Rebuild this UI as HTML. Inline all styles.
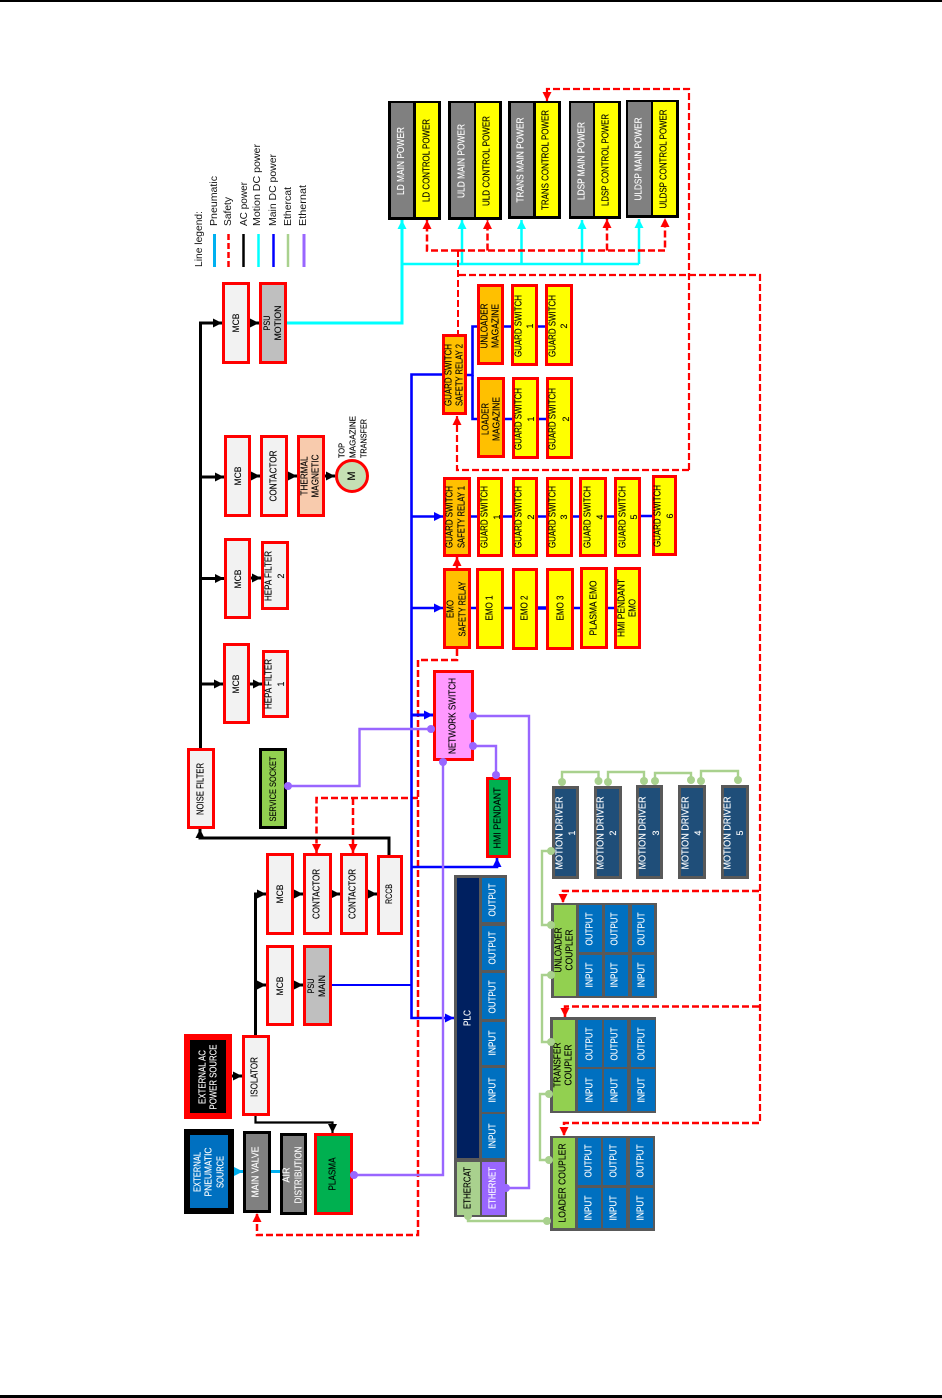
<!DOCTYPE html>
<html><head><meta charset="utf-8"><style>
html,body{margin:0;padding:0;background:#fff}
svg{display:block}
text{font-family:"Liberation Sans",sans-serif;font-size:9.8px;text-anchor:middle;dominant-baseline:central;fill:#000;stroke:currentColor;stroke-width:.12px;color:#000}
.w{fill:#fff;color:#fff}
.s{font-size:8.8px}
.l{font-size:10.5px;text-anchor:start;fill:#111;stroke:none}
.r{stroke:#f00;stroke-width:3}
.d{fill:none;stroke:#f00;stroke-width:2.5;stroke-dasharray:7 3}
.k{fill:none;stroke:#000;stroke-width:3}
.b{fill:none;stroke:#00f;stroke-width:2.6}
.c{fill:none;stroke:#0ff;stroke-width:3}
.p{fill:none;stroke:#9966ff;stroke-width:2.4}
.g{fill:none;stroke:#a9d18e;stroke-width:2.4}
.pd{fill:#9966ff}.gd{fill:#a9d18e}
.y{fill:#ff0}.o{fill:#ffc000}.f{fill:#f2f2f2}.a{fill:#bfbfbf}.h{fill:#808080}.u{fill:#0070c0}.m{fill:#1f4e79;stroke:#595959;stroke-width:3}
</style></head><body>
<svg xmlns="http://www.w3.org/2000/svg" width="942" height="1398" viewBox="0 0 942 1398">
<defs>
<marker id="ak" viewBox="0 0 8 8" refX="8" refY="4" markerWidth="9" markerHeight="9" markerUnits="userSpaceOnUse" orient="auto"><path d="M0 0L8 4L0 8Z" fill="#000"/></marker>
<marker id="ab" viewBox="0 0 8 8" refX="8" refY="4" markerWidth="9" markerHeight="9" markerUnits="userSpaceOnUse" orient="auto"><path d="M0 0L8 4L0 8Z" fill="#00f"/></marker>
<marker id="ar" viewBox="0 0 8 8" refX="8" refY="4" markerWidth="9" markerHeight="9" markerUnits="userSpaceOnUse" orient="auto"><path d="M0 0L8 4L0 8Z" fill="#f00"/></marker>
<marker id="ac" viewBox="0 0 8 8" refX="8" refY="4" markerWidth="9" markerHeight="9" markerUnits="userSpaceOnUse" orient="auto"><path d="M0 0L8 4L0 8Z" fill="#0ff"/></marker>
<marker id="ao" viewBox="0 0 8 8" refX="8" refY="4" markerWidth="9" markerHeight="9" markerUnits="userSpaceOnUse" orient="auto"><path d="M0 0L8 4L0 8Z" fill="#00b0f0"/></marker>
</defs>
<rect x="0" y="0" width="942" height="2" fill="#000"/>
<rect x="0" y="1395" width="942" height="3" fill="#000"/>

<!-- connectors: cyan -->
<path class="c" d="M287 323H402V220" marker-end="url(#ac)"/>
<path class="c" d="M402 264H639" style="stroke-width:2.500"/>
<path class="c" d="M462 264V220" style="stroke-width:2.500" marker-end="url(#ac)"/>
<path class="c" d="M521.500 264V220" style="stroke-width:2.500" marker-end="url(#ac)"/>
<path class="c" d="M582 264V220" style="stroke-width:2.500" marker-end="url(#ac)"/>
<path class="c" d="M639 264V219" style="stroke-width:2.500" marker-end="url(#ac)"/>

<!-- red dashed -->
<path class="d" d="M458 250.500H427V220" marker-end="url(#ar)"/>
<path class="d" d="M458 250.500H665V218" marker-end="url(#ar)"/>
<path class="d" d="M487.500 250.500V220" marker-end="url(#ar)"/>
<path class="d" d="M607 250.500V219" marker-end="url(#ar)"/>
<path class="d" d="M458 250V334" style="stroke-width:2"/>
<path class="d" d="M459 275H760V1123" style="stroke-width:2.200"/>
<path class="d" d="M689 470V89H547V101" style="stroke-width:2.200" marker-end="url(#ar)"/>
<path class="d" d="M689 470H457V416" style="stroke-width:2.200" marker-end="url(#ar)"/>
<path class="d" d="M457 568V557" style="stroke-dasharray:none" marker-end="url(#ar)"/>
<path class="d" d="M457 649V660H418V1235H257V1213" marker-end="url(#ar)"/>
<path class="d" d="M418 798H316.500V853" marker-end="url(#ar)"/>
<path class="d" d="M353 798V853" marker-end="url(#ar)"/>
<path class="d" d="M759 891H563V903" marker-end="url(#ar)"/>
<path class="d" d="M759 1006.500H565V1017" marker-end="url(#ar)"/>
<path class="d" d="M759 1123H564V1136" marker-end="url(#ar)"/>

<!-- black -->
<path class="k" d="M200.500 749V323H222" marker-end="url(#ak)"/>
<path class="k" d="M200 477H224" marker-end="url(#ak)"/>
<path class="k" d="M200 578.500H224" marker-end="url(#ak)"/>
<path class="k" d="M200 684H223" marker-end="url(#ak)"/>
<path class="k" d="M250 323H259" marker-end="url(#ak)"/>
<path class="k" d="M251 476H260" marker-end="url(#ak)"/>
<path class="k" d="M288 476H297" marker-end="url(#ak)"/>
<path class="k" d="M325 476H335" marker-end="url(#ak)"/>
<path class="k" d="M251 578H261" marker-end="url(#ak)"/>
<path class="k" d="M250 684H262" marker-end="url(#ak)"/>
<path class="k" d="M389 855V838H200V829" marker-end="url(#ak)"/>
<path class="k" d="M255.500 1036V894H266" marker-end="url(#ak)"/>
<path class="k" d="M255.500 985H266" marker-end="url(#ak)"/>
<path class="k" d="M294 985H303" marker-end="url(#ak)"/>
<path class="k" d="M294 894H303" marker-end="url(#ak)"/>
<path class="k" d="M332 894H340" marker-end="url(#ak)"/>
<path class="k" d="M368 894H377" marker-end="url(#ak)"/>
<path class="k" d="M232 1076H242" marker-end="url(#ak)"/>
<path class="k" style="stroke-width:2.200" d="M255.500 1116V1122.500H332.500V1133" marker-end="url(#ak)"/>

<!-- pneumatic -->
<path fill="none" stroke="#00b0f0" stroke-width="3" d="M232 1171.500H243" marker-end="url(#ao)"/>
<path fill="none" stroke="#00b0f0" stroke-width="3" d="M271 1171.500H280"/>

<!-- blue -->
<path class="b" d="M332 985H411.500" style="stroke-width:2"/>
<path class="b" d="M442 374.500H411.500V1018H454" marker-end="url(#ab)"/>
<path class="b" d="M411.500 516.500H443" marker-end="url(#ab)"/>
<path class="b" d="M411.500 608H443" marker-end="url(#ab)"/>
<path class="b" d="M411.500 715H433" style="stroke-width:3" marker-end="url(#ab)"/>
<path class="b" d="M411.500 867H497V858" marker-end="url(#ab)"/>
<path class="b" d="M467 375H472.500V326.500H477"/>
<path class="b" d="M472.500 375V419H477"/>
<path class="b" d="M504 326.500H511M538 326.500H545M505 419H512M539 419H546"/>
<path class="b" d="M471 516.500H477M503 516.500H512M538 516.500H546M573 516.500H579M607 516.500H614M641 516H652"/>
<path class="b" d="M471 608H476M504 608H512M574 608H580M608 608H614"/>
<path class="b" d="M538 608H546" style="stroke-width:3.500"/>

<!-- purple -->
<path class="p" d="M288 786H359.500V729H431"/>
<path class="p" d="M443 762V1175H354"/>
<path class="p" d="M473 716H529V1188H506"/>
<path class="p" d="M473 746H496V775"/>

<!-- ethercat green -->
<path class="g" d="M562 782V772H598.500V781"/>
<path class="g" d="M608 782V772H644V781"/>
<path class="g" d="M655 781V773H691V780"/>
<path class="g" d="M701 781V771H738V780"/>
<path class="g" d="M551 851H542V925H551"/>
<path class="g" d="M551 975H542V1042H551"/>
<path class="g" d="M549 1094H540V1160H549"/>
<path class="g" d="M468 1216V1221H547"/>

<!-- Legend -->
<text class="l" textLength="56" lengthAdjust="spacingAndGlyphs" transform="translate(199 267) rotate(-90)">Line legend:</text>
<text class="l" textLength="50" lengthAdjust="spacingAndGlyphs" transform="translate(214 226) rotate(-90)">Pneumatic</text>
<text class="l" textLength="29" lengthAdjust="spacingAndGlyphs" transform="translate(228 226) rotate(-90)">Safety</text>
<text class="l" textLength="44" lengthAdjust="spacingAndGlyphs" transform="translate(244 226) rotate(-90)">AC power</text>
<text class="l" textLength="82" lengthAdjust="spacingAndGlyphs" transform="translate(257 226) rotate(-90)">Motion DC power</text>
<text class="l" textLength="72" lengthAdjust="spacingAndGlyphs" transform="translate(273 226) rotate(-90)">Main DC power</text>
<text class="l" textLength="39" lengthAdjust="spacingAndGlyphs" transform="translate(288 226) rotate(-90)">Ethercat</text>
<text class="l" textLength="41" lengthAdjust="spacingAndGlyphs" transform="translate(303 226) rotate(-90)">Ethernat</text>
<path d="M214.500 234V267" stroke="#00b0f0" stroke-width="3"/>
<path d="M228.500 234V267" stroke="#f00" stroke-width="2.500" stroke-dasharray="6 3"/>
<path d="M243.500 234V267" stroke="#000" stroke-width="2.500"/>
<path d="M258.500 234V267" stroke="#0ff" stroke-width="2.500"/>
<path d="M273.500 234V267" stroke="#00f" stroke-width="2.500"/>
<path d="M288 234V267" stroke="#a9d18e" stroke-width="2.500"/>
<path d="M304 234V267" stroke="#9966ff" stroke-width="3"/>

<!-- Power blocks -->
<rect x="388" y="101" width="53" height="119" fill="#000"/><rect x="391" y="103" width="22" height="114" class="h"/><rect x="416" y="103" width="22" height="114" class="y"/>
<rect x="448" y="101" width="54" height="119" fill="#000"/><rect x="451" y="103" width="23" height="114" class="h"/><rect x="476" y="103" width="23" height="114" class="y"/>
<rect x="508" y="101" width="53" height="118" fill="#000"/><rect x="511" y="103" width="22" height="113" class="h"/><rect x="536" y="103" width="22" height="113" class="y"/>
<rect x="569" y="101" width="52" height="118" fill="#000"/><rect x="571" y="103" width="22" height="113" class="h"/><rect x="595" y="103" width="23" height="113" class="y"/>
<rect x="626" y="100" width="53" height="118" fill="#000"/><rect x="628" y="102" width="23" height="113" class="h"/><rect x="653" y="102" width="23" height="113" class="y"/>
<text class="w" textLength="68" lengthAdjust="spacingAndGlyphs" transform="translate(401.500 161) rotate(-90)">LD MAIN POWER</text>
<text textLength="83" lengthAdjust="spacingAndGlyphs" transform="translate(427 160.500) rotate(-90)">LD CONTROL POWER</text>
<text class="w" textLength="74" lengthAdjust="spacingAndGlyphs" transform="translate(462 161) rotate(-90)">ULD MAIN POWER</text>
<text textLength="90" lengthAdjust="spacingAndGlyphs" transform="translate(487 161) rotate(-90)">ULD CONTROL POWER</text>
<text class="w" textLength="85" lengthAdjust="spacingAndGlyphs" transform="translate(521 160) rotate(-90)">TRANS MAIN POWER</text>
<text textLength="100" lengthAdjust="spacingAndGlyphs" transform="translate(546 160) rotate(-90)">TRANS CONTROL POWER</text>
<text class="w" textLength="78" lengthAdjust="spacingAndGlyphs" transform="translate(582 161) rotate(-90)">LDSP MAIN POWER</text>
<text textLength="92" lengthAdjust="spacingAndGlyphs" transform="translate(606 160) rotate(-90)">LDSP CONTROL POWER</text>
<text class="w" textLength="83" lengthAdjust="spacingAndGlyphs" transform="translate(639 159) rotate(-90)">ULDSP MAIN POWER</text>
<text textLength="99" lengthAdjust="spacingAndGlyphs" transform="translate(664 159) rotate(-90)">ULDSP CONTROL POWER</text>

<!-- Upper left red boxes -->
<rect x="223.500" y="283.500" width="25" height="79" class="r f"/>
<rect x="260.500" y="283.500" width="25" height="79" class="r a"/>
<rect x="225.500" y="436.500" width="24" height="79" class="r f"/>
<rect x="261.500" y="436.500" width="25" height="79" class="r f"/>
<rect x="298.500" y="436.500" width="25" height="79" class="r" fill="#f8cbad"/>
<circle cx="352" cy="476" r="15.500" fill="#c5e0b4" stroke="#f00" stroke-width="3"/>
<rect x="225.500" y="539.500" width="24" height="78" class="r f"/>
<rect x="262.500" y="542.500" width="25" height="66" class="r f"/>
<rect x="224.500" y="644.500" width="24" height="78" class="r f"/>
<rect x="263.500" y="651.500" width="24" height="65" class="r f"/>
<rect x="188.500" y="749.500" width="25" height="78" class="r f"/>
<rect x="260.500" y="749.500" width="25" height="78" fill="#92d050" stroke="#000" stroke-width="3"/>
<text class="s" textLength="19" lengthAdjust="spacingAndGlyphs" transform="translate(236 323) rotate(-90)">MCB</text>
<text class="s" textLength="15" lengthAdjust="spacingAndGlyphs" transform="translate(267 323) rotate(-90)">PSU</text>
<text class="s" textLength="35" lengthAdjust="spacingAndGlyphs" transform="translate(278 323) rotate(-90)">MOTION</text>
<text class="s" textLength="19" lengthAdjust="spacingAndGlyphs" transform="translate(238 476) rotate(-90)">MCB</text>
<text textLength="51" lengthAdjust="spacingAndGlyphs" transform="translate(274 476) rotate(-90)">CONTACTOR</text>
<text textLength="39" lengthAdjust="spacingAndGlyphs" transform="translate(305 476) rotate(-90)">THERMAL</text>
<text textLength="43" lengthAdjust="spacingAndGlyphs" transform="translate(316 476) rotate(-90)">MAGNETIC</text>
<text style="font-size:11px" transform="translate(352 476) rotate(-90)">M</text>
<text style="font-size:8px;text-anchor:start" textLength="15" lengthAdjust="spacingAndGlyphs" transform="translate(342 458) rotate(-90)">TOP</text>
<text style="font-size:8px;text-anchor:start" textLength="42" lengthAdjust="spacingAndGlyphs" transform="translate(353 458) rotate(-90)">MAGAZINE</text>
<text style="font-size:8px;text-anchor:start" textLength="39" lengthAdjust="spacingAndGlyphs" transform="translate(364 458) rotate(-90)">TRANSFER</text>
<text class="s" textLength="19" lengthAdjust="spacingAndGlyphs" transform="translate(238 579) rotate(-90)">MCB</text>
<text textLength="50" lengthAdjust="spacingAndGlyphs" transform="translate(269 576) rotate(-90)">HEPA FILTER</text>
<text class="s" transform="translate(281 576) rotate(-90)">2</text>
<text class="s" textLength="19" lengthAdjust="spacingAndGlyphs" transform="translate(236 684) rotate(-90)">MCB</text>
<text textLength="50" lengthAdjust="spacingAndGlyphs" transform="translate(269 684) rotate(-90)">HEPA FILTER</text>
<text class="s" transform="translate(281 684) rotate(-90)">1</text>
<text textLength="52" lengthAdjust="spacingAndGlyphs" transform="translate(201 789) rotate(-90)">NOISE FILTER</text>
<text class="s" textLength="65" lengthAdjust="spacingAndGlyphs" transform="translate(273 789) rotate(-90)">SERVICE SOCKET</text>

<!-- Lower left -->
<rect x="267.500" y="854.500" width="25" height="79" class="r f"/>
<rect x="304.500" y="854.500" width="26" height="79" class="r f"/>
<rect x="341.500" y="854.500" width="25" height="79" class="r f"/>
<rect x="378.500" y="856.500" width="23" height="77" class="r f"/>
<rect x="267.500" y="946.500" width="25" height="78" class="r f"/>
<rect x="304.500" y="946.500" width="26" height="78" class="r a"/>
<rect x="243.500" y="1036.500" width="25" height="78" class="r f"/>
<rect x="187" y="1037" width="42" height="79" fill="#000" stroke="#f00" stroke-width="6"/>
<rect x="187" y="1132" width="44" height="79" fill="#0070c0" stroke="#000" stroke-width="6"/>
<rect x="244.500" y="1132.500" width="25" height="79" class="h" stroke="#000" stroke-width="3"/>
<rect x="281.500" y="1134.500" width="24" height="79" class="h" stroke="#000" stroke-width="3"/>
<rect x="315.500" y="1134.500" width="36" height="79" class="r" fill="#00b050"/>
<text class="s" textLength="19" lengthAdjust="spacingAndGlyphs" transform="translate(280 894) rotate(-90)">MCB</text>
<text textLength="50" lengthAdjust="spacingAndGlyphs" transform="translate(317 894) rotate(-90)">CONTACTOR</text>
<text textLength="50" lengthAdjust="spacingAndGlyphs" transform="translate(353 894) rotate(-90)">CONTACTOR</text>
<text class="s" textLength="20" lengthAdjust="spacingAndGlyphs" transform="translate(389 894) rotate(-90)">RCCB</text>
<text class="s" textLength="19" lengthAdjust="spacingAndGlyphs" transform="translate(280 986) rotate(-90)">MCB</text>
<text class="s" textLength="15" lengthAdjust="spacingAndGlyphs" transform="translate(311 986) rotate(-90)">PSU</text>
<text class="s" textLength="22" lengthAdjust="spacingAndGlyphs" transform="translate(322 986) rotate(-90)">MAIN</text>
<text textLength="40" lengthAdjust="spacingAndGlyphs" transform="translate(255 1077) rotate(-90)">ISOLATOR</text>
<text class="w" textLength="54" lengthAdjust="spacingAndGlyphs" transform="translate(203 1077) rotate(-90)">EXTERNAL AC</text>
<text class="w" textLength="65" lengthAdjust="spacingAndGlyphs" transform="translate(214 1077) rotate(-90)">POWER SOURCE</text>
<text class="w" textLength="40" lengthAdjust="spacingAndGlyphs" transform="translate(198 1172) rotate(-90)">EXTERNAL</text>
<text class="w" textLength="49" lengthAdjust="spacingAndGlyphs" transform="translate(209 1172) rotate(-90)">PNEUMATIC</text>
<text class="w" textLength="32" lengthAdjust="spacingAndGlyphs" transform="translate(221 1172) rotate(-90)">SOURCE</text>
<text class="w" textLength="51" lengthAdjust="spacingAndGlyphs" transform="translate(256 1172) rotate(-90)">MAIN VALVE</text>
<text class="w" textLength="15" lengthAdjust="spacingAndGlyphs" transform="translate(287 1175) rotate(-90)">AIR</text>
<text class="w" textLength="57" lengthAdjust="spacingAndGlyphs" transform="translate(299 1175) rotate(-90)">DISTRIBUTION</text>
<text textLength="33" lengthAdjust="spacingAndGlyphs" transform="translate(333 1174) rotate(-90)">PLASMA</text>

<!-- Network / HMI -->
<rect x="434.500" y="671.500" width="38" height="88" class="r" fill="#ff99ff"/>
<rect x="487.500" y="778.500" width="22" height="78" class="r" fill="#00b050"/>
<text textLength="76" lengthAdjust="spacingAndGlyphs" transform="translate(453 716) rotate(-90)">NETWORK SWITCH</text>
<text textLength="61" lengthAdjust="spacingAndGlyphs" transform="translate(498 818) rotate(-90)">HMI  PENDANT</text>

<!-- Relays -->
<rect x="443.500" y="335.500" width="22" height="78" class="r o"/>
<rect x="444.500" y="478.500" width="25" height="77" class="r o"/>
<rect x="444.500" y="569.500" width="25" height="78" class="r o"/>
<text textLength="62" lengthAdjust="spacingAndGlyphs" transform="translate(449 375) rotate(-90)">GUARD SWITCH</text>
<text textLength="62" lengthAdjust="spacingAndGlyphs" transform="translate(460 375) rotate(-90)">SAFETY RELAY 2</text>
<text textLength="62" lengthAdjust="spacingAndGlyphs" transform="translate(450 517) rotate(-90)">GUARD SWITCH</text>
<text textLength="62" lengthAdjust="spacingAndGlyphs" transform="translate(462 517) rotate(-90)">SAFETY RELAY 1</text>
<text textLength="18" lengthAdjust="spacingAndGlyphs" transform="translate(451 609) rotate(-90)">EMO</text>
<text textLength="55" lengthAdjust="spacingAndGlyphs" transform="translate(463 609) rotate(-90)">SAFETY RELAY</text>

<!-- Magazine rows -->
<rect x="478.500" y="285.500" width="24" height="78" class="r o"/>
<rect x="512.500" y="285.500" width="24" height="79" class="r y"/>
<rect x="546.500" y="285.500" width="25" height="79" class="r y"/>
<rect x="478.500" y="378.500" width="25" height="78" class="r o"/>
<rect x="513.500" y="378.500" width="24" height="79" class="r y"/>
<rect x="547.500" y="378.500" width="24" height="79" class="r y"/>
<text textLength="45" lengthAdjust="spacingAndGlyphs" transform="translate(485 326) rotate(-90)">UNLOADER</text>
<text textLength="44" lengthAdjust="spacingAndGlyphs" transform="translate(496 326) rotate(-90)">MAGAZINE</text>
<text textLength="62" lengthAdjust="spacingAndGlyphs" transform="translate(519 326) rotate(-90)">GUARD SWITCH</text>
<text class="s" transform="translate(530 326) rotate(-90)">1</text>
<text textLength="62" lengthAdjust="spacingAndGlyphs" transform="translate(553 326) rotate(-90)">GUARD SWITCH</text>
<text class="s" transform="translate(564 326) rotate(-90)">2</text>
<text textLength="32" lengthAdjust="spacingAndGlyphs" transform="translate(486 419) rotate(-90)">LOADER</text>
<text textLength="44" lengthAdjust="spacingAndGlyphs" transform="translate(497 419) rotate(-90)">MAGAZINE</text>
<text textLength="62" lengthAdjust="spacingAndGlyphs" transform="translate(519 419) rotate(-90)">GUARD SWITCH</text>
<text class="s" transform="translate(531 419) rotate(-90)">1</text>
<text textLength="62" lengthAdjust="spacingAndGlyphs" transform="translate(553 419) rotate(-90)">GUARD SWITCH</text>
<text class="s" transform="translate(566 419) rotate(-90)">2</text>

<!-- Guard switch row -->
<rect x="478.500" y="478.500" width="23" height="77" class="r y"/>
<rect x="513.500" y="478.500" width="23" height="77" class="r y"/>
<rect x="547.500" y="478.500" width="24" height="77" class="r y"/>
<rect x="580.500" y="478.500" width="25" height="77" class="r y"/>
<rect x="615.500" y="478.500" width="24" height="77" class="r y"/>
<rect x="653.500" y="476.500" width="22" height="78" class="r y"/>
<text textLength="62" lengthAdjust="spacingAndGlyphs" transform="translate(485 517) rotate(-90)">GUARD SWITCH</text>
<text class="s" transform="translate(497 517) rotate(-90)">1</text>
<text textLength="62" lengthAdjust="spacingAndGlyphs" transform="translate(519 517) rotate(-90)">GUARD SWITCH</text>
<text class="s" transform="translate(531 517) rotate(-90)">2</text>
<text textLength="62" lengthAdjust="spacingAndGlyphs" transform="translate(553 517) rotate(-90)">GUARD SWITCH</text>
<text class="s" transform="translate(564 517) rotate(-90)">3</text>
<text textLength="62" lengthAdjust="spacingAndGlyphs" transform="translate(588 517) rotate(-90)">GUARD SWITCH</text>
<text class="s" transform="translate(600 517) rotate(-90)">4</text>
<text textLength="62" lengthAdjust="spacingAndGlyphs" transform="translate(623 517) rotate(-90)">GUARD SWITCH</text>
<text class="s" transform="translate(634 517) rotate(-90)">5</text>
<text textLength="62" lengthAdjust="spacingAndGlyphs" transform="translate(658 516) rotate(-90)">GUARD SWITCH</text>
<text class="s" transform="translate(670 516) rotate(-90)">6</text>

<!-- EMO row -->
<rect x="477.500" y="569.500" width="25" height="78" class="r y"/>
<rect x="513.500" y="569.500" width="23" height="79" class="r y"/>
<rect x="547.500" y="569.500" width="25" height="79" class="r y"/>
<rect x="581.500" y="568.500" width="25" height="79" class="r y"/>
<rect x="615.500" y="568.500" width="24" height="79" class="r y"/>
<text textLength="25" lengthAdjust="spacingAndGlyphs" transform="translate(490 608) rotate(-90)">EMO 1</text>
<text textLength="25" lengthAdjust="spacingAndGlyphs" transform="translate(525 608) rotate(-90)">EMO 2</text>
<text textLength="25" lengthAdjust="spacingAndGlyphs" transform="translate(561 608) rotate(-90)">EMO 3</text>
<text textLength="55" lengthAdjust="spacingAndGlyphs" transform="translate(594 608) rotate(-90)">PLASMA EMO</text>
<text textLength="58" lengthAdjust="spacingAndGlyphs" transform="translate(622 608) rotate(-90)">HMI PENDANT</text>
<text textLength="18" lengthAdjust="spacingAndGlyphs" transform="translate(633 608) rotate(-90)">EMO</text>

<!-- PLC -->
<rect x="454" y="875" width="53" height="342" fill="#595959"/>
<rect x="457" y="878" width="22" height="280" fill="#002060"/>
<rect x="482" y="878" width="23" height="44" class="u"/>
<rect x="482" y="926" width="23" height="44" class="u"/>
<rect x="482" y="973" width="23" height="46" class="u"/>
<rect x="482" y="1022" width="23" height="43" class="u"/>
<rect x="482" y="1068" width="23" height="44" class="u"/>
<rect x="482" y="1114" width="23" height="44" class="u"/>
<rect x="457" y="1162" width="23" height="53" fill="#a9d18e"/>
<rect x="482" y="1162" width="23" height="53" fill="#9966ff"/>
<text class="w" textLength="16" lengthAdjust="spacingAndGlyphs" transform="translate(468 1018) rotate(-90)">PLC</text>
<text class="w" textLength="33" lengthAdjust="spacingAndGlyphs" transform="translate(493 900) rotate(-90)">OUTPUT</text>
<text class="w" textLength="33" lengthAdjust="spacingAndGlyphs" transform="translate(493 948) rotate(-90)">OUTPUT</text>
<text class="w" textLength="33" lengthAdjust="spacingAndGlyphs" transform="translate(493 997) rotate(-90)">OUTPUT</text>
<text class="w" textLength="25" lengthAdjust="spacingAndGlyphs" transform="translate(493 1043) rotate(-90)">INPUT</text>
<text class="w" textLength="25" lengthAdjust="spacingAndGlyphs" transform="translate(493 1090) rotate(-90)">INPUT</text>
<text class="w" textLength="25" lengthAdjust="spacingAndGlyphs" transform="translate(493 1136) rotate(-90)">INPUT</text>
<text textLength="42" lengthAdjust="spacingAndGlyphs" transform="translate(468 1188) rotate(-90)">ETHERCAT</text>
<text class="w" textLength="42" lengthAdjust="spacingAndGlyphs" transform="translate(493 1188) rotate(-90)">ETHERNET</text>

<!-- Motion drivers -->
<rect x="553.500" y="787.500" width="24" height="90" class="m"/>
<rect x="595.500" y="787.500" width="25" height="90" class="m"/>
<rect x="637.500" y="786.500" width="24" height="91" class="m"/>
<rect x="679.500" y="786.500" width="25" height="91" class="m"/>
<rect x="722.500" y="786.500" width="25" height="91" class="m"/>
<text class="w" textLength="73" lengthAdjust="spacingAndGlyphs" transform="translate(560 833) rotate(-90)">MOTION DRIVER</text>
<text class="w s" transform="translate(572 833) rotate(-90)">1</text>
<text class="w" textLength="73" lengthAdjust="spacingAndGlyphs" transform="translate(601 833) rotate(-90)">MOTION DRIVER</text>
<text class="w s" transform="translate(613 833) rotate(-90)">2</text>
<text class="w" textLength="73" lengthAdjust="spacingAndGlyphs" transform="translate(643 833) rotate(-90)">MOTION DRIVER</text>
<text class="w s" transform="translate(656 833) rotate(-90)">3</text>
<text class="w" textLength="73" lengthAdjust="spacingAndGlyphs" transform="translate(686 833) rotate(-90)">MOTION DRIVER</text>
<text class="w s" transform="translate(698 833) rotate(-90)">4</text>
<text class="w" textLength="73" lengthAdjust="spacingAndGlyphs" transform="translate(728 833) rotate(-90)">MOTION DRIVER</text>
<text class="w s" transform="translate(740 833) rotate(-90)">5</text>

<!-- Unloader coupler -->
<rect x="551" y="903" width="106" height="95" fill="#595959"/>
<rect x="554" y="905" width="22" height="91" fill="#92d050"/>
<rect x="579" y="905" width="23" height="47" class="u"/><rect x="605" y="905" width="23" height="47" class="u"/><rect x="632" y="905" width="22" height="47" class="u"/>
<rect x="579" y="955" width="23" height="41" class="u"/><rect x="605" y="955" width="23" height="41" class="u"/><rect x="632" y="955" width="22" height="41" class="u"/>
<text textLength="45" lengthAdjust="spacingAndGlyphs" transform="translate(559 950) rotate(-90)">UNLOADER</text>
<text textLength="41" lengthAdjust="spacingAndGlyphs" transform="translate(570 950) rotate(-90)">COUPLER</text>
<text class="w" textLength="33" lengthAdjust="spacingAndGlyphs" transform="translate(590 929) rotate(-90)">OUTPUT</text>
<text class="w" textLength="33" lengthAdjust="spacingAndGlyphs" transform="translate(615 929) rotate(-90)">OUTPUT</text>
<text class="w" textLength="33" lengthAdjust="spacingAndGlyphs" transform="translate(642 929) rotate(-90)">OUTPUT</text>
<text class="w" textLength="25" lengthAdjust="spacingAndGlyphs" transform="translate(590 975) rotate(-90)">INPUT</text>
<text class="w" textLength="25" lengthAdjust="spacingAndGlyphs" transform="translate(615 975) rotate(-90)">INPUT</text>
<text class="w" textLength="25" lengthAdjust="spacingAndGlyphs" transform="translate(642 975) rotate(-90)">INPUT</text>

<!-- Transfer coupler -->
<rect x="550" y="1017" width="106" height="96" fill="#595959"/>
<rect x="553" y="1020" width="22" height="91" fill="#92d050"/>
<rect x="578" y="1020" width="24" height="47" class="u"/><rect x="604" y="1020" width="23" height="47" class="u"/><rect x="631" y="1020" width="24" height="47" class="u"/>
<rect x="578" y="1069" width="24" height="42" class="u"/><rect x="604" y="1069" width="23" height="42" class="u"/><rect x="631" y="1069" width="24" height="42" class="u"/>
<text textLength="45" lengthAdjust="spacingAndGlyphs" transform="translate(558 1065) rotate(-90)">TRANSFER</text>
<text textLength="41" lengthAdjust="spacingAndGlyphs" transform="translate(569 1065) rotate(-90)">COUPLER</text>
<text class="w" textLength="33" lengthAdjust="spacingAndGlyphs" transform="translate(590 1044) rotate(-90)">OUTPUT</text>
<text class="w" textLength="33" lengthAdjust="spacingAndGlyphs" transform="translate(615 1044) rotate(-90)">OUTPUT</text>
<text class="w" textLength="33" lengthAdjust="spacingAndGlyphs" transform="translate(642 1044) rotate(-90)">OUTPUT</text>
<text class="w" textLength="25" lengthAdjust="spacingAndGlyphs" transform="translate(590 1090) rotate(-90)">INPUT</text>
<text class="w" textLength="25" lengthAdjust="spacingAndGlyphs" transform="translate(615 1090) rotate(-90)">INPUT</text>
<text class="w" textLength="25" lengthAdjust="spacingAndGlyphs" transform="translate(642 1090) rotate(-90)">INPUT</text>

<!-- Loader coupler -->
<rect x="550" y="1136" width="105" height="95" fill="#595959"/>
<rect x="553" y="1138" width="22" height="90" fill="#92d050"/>
<rect x="578" y="1138" width="23" height="47" class="u"/><rect x="603" y="1138" width="23" height="47" class="u"/><rect x="630" y="1138" width="23" height="47" class="u"/>
<rect x="578" y="1188" width="23" height="40" class="u"/><rect x="603" y="1188" width="23" height="40" class="u"/><rect x="630" y="1188" width="23" height="40" class="u"/>
<text textLength="79" lengthAdjust="spacingAndGlyphs" transform="translate(563 1183) rotate(-90)">LOADER COUPLER</text>
<text class="w" textLength="33" lengthAdjust="spacingAndGlyphs" transform="translate(589 1161) rotate(-90)">OUTPUT</text>
<text class="w" textLength="33" lengthAdjust="spacingAndGlyphs" transform="translate(614 1161) rotate(-90)">OUTPUT</text>
<text class="w" textLength="33" lengthAdjust="spacingAndGlyphs" transform="translate(641 1161) rotate(-90)">OUTPUT</text>
<text class="w" textLength="25" lengthAdjust="spacingAndGlyphs" transform="translate(589 1208) rotate(-90)">INPUT</text>
<text class="w" textLength="25" lengthAdjust="spacingAndGlyphs" transform="translate(614 1208) rotate(-90)">INPUT</text>
<text class="w" textLength="25" lengthAdjust="spacingAndGlyphs" transform="translate(641 1208) rotate(-90)">INPUT</text>

<!-- Dots -->
<g class="pd">
<circle cx="288" cy="786" r="4"/><circle cx="431" cy="729" r="4"/><circle cx="443" cy="762" r="4"/>
<circle cx="354" cy="1175" r="4"/><circle cx="473" cy="716" r="4"/><circle cx="473" cy="746" r="4"/>
<circle cx="496" cy="775" r="4"/><circle cx="506" cy="1188" r="4"/>
</g>
<g class="gd">
<circle cx="562" cy="782" r="4"/><circle cx="598.500" cy="781" r="4"/>
<circle cx="608" cy="782" r="4"/><circle cx="644" cy="781" r="4"/>
<circle cx="655" cy="781" r="4"/><circle cx="691" cy="780" r="4"/>
<circle cx="701" cy="781" r="4"/><circle cx="738" cy="780" r="4"/>
<circle cx="551" cy="851" r="4"/><circle cx="551" cy="925" r="4"/>
<circle cx="551" cy="975" r="4"/><circle cx="551" cy="1042" r="4"/>
<circle cx="549" cy="1094" r="4"/><circle cx="549" cy="1160" r="4"/>
<circle cx="468" cy="1216" r="4"/><circle cx="547" cy="1221" r="4"/>
</g>
</svg>
</body></html>
